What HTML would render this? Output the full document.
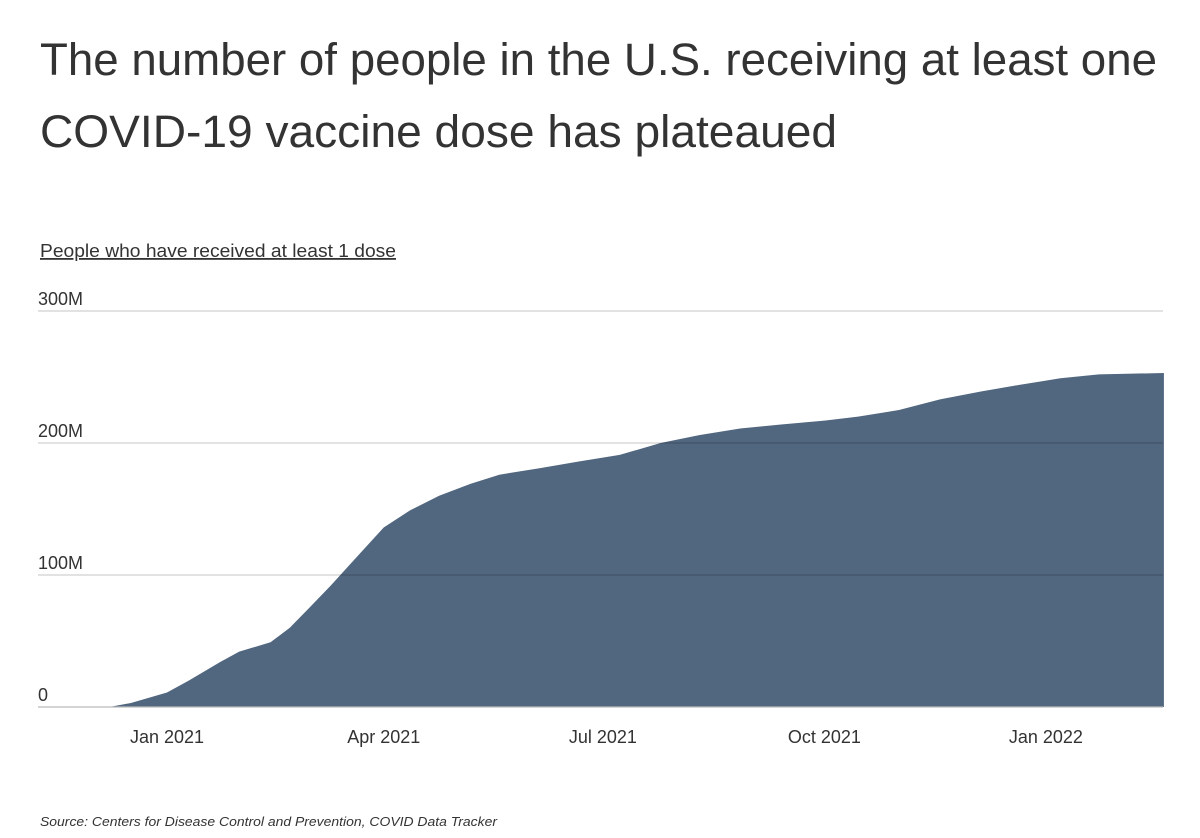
<!DOCTYPE html>
<html><head><meta charset="utf-8"><style>
html,body{margin:0;padding:0;background:#fff;}
svg{display:block;font-family:"Liberation Sans",sans-serif;}
</style></head><body>
<svg id="chart" width="1200" height="838" viewBox="0 0 1200 838">
<text x="40" y="75" font-size="45" fill="#333" textLength="1117" lengthAdjust="spacingAndGlyphs">The number of people in the U.S. receiving at least one</text>
<text x="40" y="147" font-size="45" fill="#333" textLength="797" lengthAdjust="spacingAndGlyphs">COVID-19 vaccine dose has plateaued</text>
<text x="40" y="257" font-size="18" fill="#333" textLength="356" lengthAdjust="spacingAndGlyphs" text-decoration="underline"> People who have received at least 1 dose</text>
<g id="area-layer"></g>
<g id="grid-layer"></g>
<g id="x-layer"></g>
<text x="40" y="826" font-size="13" font-style="italic" fill="#333" textLength="457" lengthAdjust="spacingAndGlyphs">Source:  Centers for Disease Control and Prevention, COVID Data Tracker</text>
</svg>
<script>
const dates = ["2020-12-08","2020-12-17","2021-01-01","2021-01-10","2021-01-23","2021-01-31","2021-02-13","2021-02-21","2021-03-01","2021-03-10","2021-03-18","2021-03-26","2021-04-01","2021-04-12","2021-04-24","2021-05-07","2021-05-19","2021-06-05","2021-06-21","2021-07-08","2021-07-25","2021-08-10","2021-08-27","2021-09-13","2021-10-01","2021-10-15","2021-11-01","2021-11-18","2021-12-05","2021-12-21","2022-01-07","2022-01-23","2022-02-19"];
const values = [0,3,11,20,34,42,49,60,75,92,108,124,136,149,160,169,176,181,186,191,200,206,211,214,217,220,225,233,239,244,249,252,253];
const yTicks = [0,100,300,200];
const yTickLabels = ["0","100M","300M","200M"];
const xTickDates = ["2021-01-01","2021-04-01","2021-07-01","2021-10-01","2022-01-01"];
const xTickLabels = ["Jan 2021","Apr 2021","Jul 2021","Oct 2021","Jan 2022"];

const NS="http://www.w3.org/2000/svg";
const t0=Date.parse("2021-01-01"), day=86400000;
function x(d){return 167+(Date.parse(d)-t0)/day*2.408;}
function y(v){return 707-v*1.32;}
const first=x(dates[0]), last=x(dates[dates.length-1]);

let p="M"+first+","+y(0);
dates.forEach((d,i)=>{p+=" L"+x(d).toFixed(1)+","+y(values[i]).toFixed(1);});
p+=" L"+last+","+y(0)+" Z";
const area=document.createElementNS(NS,"path");
area.setAttribute("d",p);area.setAttribute("fill","#51667f");


document.getElementById("area-layer").appendChild(area);

const g=document.getElementById("grid-layer");
yTicks.forEach((v,i)=>{
  const l=document.createElementNS(NS,"line");
  l.setAttribute("x1",38);l.setAttribute("x2",1163);
  l.setAttribute("y1",y(v));l.setAttribute("y2",y(v));
  l.setAttribute("stroke",v===0?"#bbb":"rgba(0,0,0,0.18)");l.setAttribute("stroke-width",1.3);
  
  
  g.appendChild(l);
  const t=document.createElementNS(NS,"text");
  t.setAttribute("x",38);t.setAttribute("y",y(v)-6);
  t.setAttribute("font-size",18);t.setAttribute("fill","#333");
  t.textContent=yTickLabels[i];
  
  
  g.appendChild(t);
});
const xg=document.getElementById("x-layer");
xTickDates.forEach((d,i)=>{
  const t=document.createElementNS(NS,"text");
  t.setAttribute("x",x(d));t.setAttribute("y",743);
  t.setAttribute("font-size",18);t.setAttribute("fill","#333");t.setAttribute("text-anchor","middle");
  t.textContent=xTickLabels[i];
  
  
  xg.appendChild(t);
});
</script>
</body></html>
